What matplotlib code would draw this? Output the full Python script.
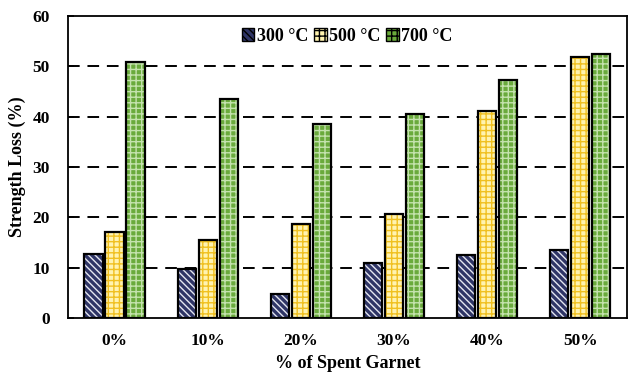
import matplotlib as mpl
mpl.use('Agg')
import matplotlib.pyplot as plt
import numpy as np

plt.rcParams['font.family'] = ['Liberation Serif', 'DejaVu Serif']
plt.rcParams['font.weight'] = 'bold'
plt.rcParams['hatch.linewidth'] = 1.0

categories = ['0%', '10%', '20%', '30%', '40%', '50%']
series_names = ['300 °C', '500 °C', '700 °C']
loss_300 = [12.8, 9.8, 4.8, 11.0, 12.5, 13.5]
loss_500 = [17.0, 15.5, 18.7, 20.7, 41.2, 51.8]
loss_700 = [50.8, 43.5, 38.5, 40.5, 47.2, 52.5]

# face colour, hatch colour, hatch pattern for each series
styles = [('#2f3566', '#e4e6f0', '\\\\\\\\\\'),
          ('#fff3b0', '#f0c020', '+++'),
          ('#6aaa3c', '#c4e2ad', '+++')]

fig = plt.figure(figsize=(6.35, 3.79), dpi=100)
ax = fig.add_axes([0.107, 0.161, 0.880, 0.797])

x = np.arange(len(categories))
width = 0.195
step = 0.225

for i, vals in enumerate([loss_300, loss_500, loss_700]):
    face, hcol, hatch = styles[i]
    pos = x + (i - 1) * step
    # hatched fill first, then a black outline on top
    ax.bar(pos, vals, width, color=face, edgecolor=hcol, hatch=hatch,
           linewidth=0, zorder=3)
    ax.bar(pos, vals, width, facecolor='none', edgecolor='black',
           linewidth=1.6, zorder=4, label=series_names[i])

ax.set_xlim(-0.5, len(categories) - 0.5)
ax.set_ylim(0, 60)
ax.set_yticks(range(0, 61, 10))
ax.set_xticks(x)
ax.set_xticklabels(categories)
ax.tick_params(axis='x', length=0, pad=11, labelsize=12.5)
ax.tick_params(axis='y', direction='in', length=4, width=1.2, pad=13, labelsize=12.5)

for v in range(10, 60, 10):
    ax.axhline(v, color='black', linestyle=(0, (6, 4)), linewidth=1.4, zorder=1)

for s in ax.spines.values():
    s.set_linewidth(1.3)

ax.set_ylabel('Strength Loss (%)', fontsize=13, fontweight='bold', labelpad=5)
ax.set_xlabel('% of Spent Garnet', fontsize=13, fontweight='bold', labelpad=4)

# legend: just use the hatched patches
handles = []
for i in range(3):
    face, hcol, hatch = styles[i]
    handles.append(mpl.patches.Patch(facecolor=face, edgecolor=hcol, hatch=hatch,
                                     linewidth=0))
leg = ax.legend(handles, series_names, loc='upper center', bbox_to_anchor=(0.5, 1.0),
                ncol=3, frameon=False, fontsize=13, handlelength=0.7, handleheight=0.7,
                handletextpad=0.15, columnspacing=0.3, borderaxespad=0.25)
for h in leg.legend_handles:
    h.set_edgecolor('black')
    h.set_linewidth(1.0)

plt.savefig('out.png', dpi=100)
